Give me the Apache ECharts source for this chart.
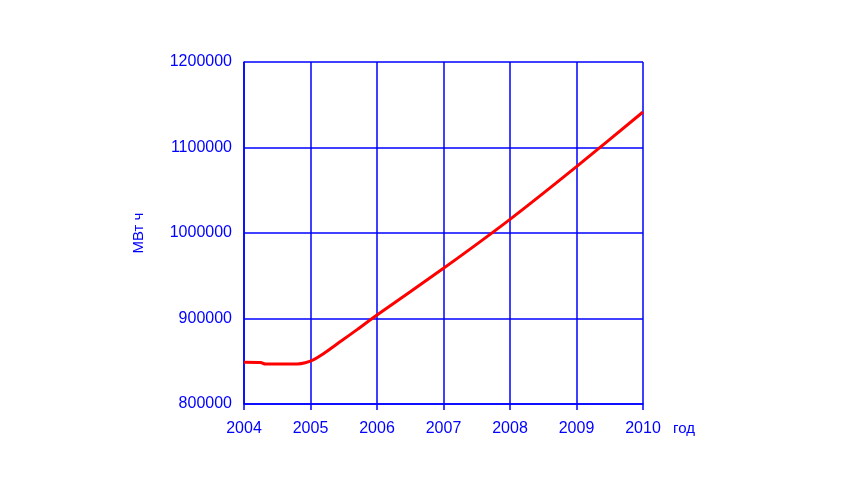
<!DOCTYPE html>
<html>
<head>
<meta charset="utf-8">
<script src="https://cdn.jsdelivr.net/npm/echarts@6/dist/echarts.min.js"></script>
<style>
  html, body { margin: 0; padding: 0; background: #fff; }
  #chart { width: 842px; height: 483px; }
</style>
</head>
<body>
<div id="chart"></div>
<script>
// годы (дробные, чтобы передать форму кривой) и потребление, МВт ч
var years  = [2004, 2004.25, 2004.32, 2004.8, 2004.92, 2005.05, 2005.2, 2005.45, 2005.7, 2006, 2007, 2008, 2009, 2010];
var values = [848800, 848500, 846800, 846900, 848300, 852000, 859000, 873000, 887000, 904000, 958700, 1016000, 1077600, 1141500];
var yTicks = [800000, 900000, 1000000, 1100000, 1200000];
var xTicks = [2004, 2005, 2006, 2007, 2008, 2009, 2010];

var blue = '#0000ff';
var labelFont = { color: blue, fontFamily: 'Liberation Sans', fontSize: 16 };

var points = years.map(function (y, i) { return [y, values[i]]; });

var e = echarts.init(document.getElementById('chart'));
var option = {
    animation: false,
    grid: { left: 244, right: 199, top: 62, bottom: 79 },
    xAxis: {
        type: 'value',
        min: xTicks[0],
        max: xTicks[xTicks.length - 1],
        interval: 1,
        axisLine: { show: true, lineStyle: { color: blue, width: 1.5 } },
        axisTick: { show: true, length: 6, lineStyle: { color: blue, width: 1.5 } },
        splitLine: { show: true, lineStyle: { color: blue, width: 1.5 } },
        axisLabel: {
            color: labelFont.color, fontFamily: labelFont.fontFamily, fontSize: labelFont.fontSize,
            margin: 17,
            formatter: function (v) { return String(v); }
        }
    },
    yAxis: {
        type: 'value',
        min: yTicks[0],
        max: yTicks[yTicks.length - 1],
        interval: 100000,
        name: 'МВт ч',
        nameLocation: 'middle',
        nameRotate: 90,
        nameGap: 98,
        nameTextStyle: { color: blue, fontFamily: 'Liberation Sans', fontSize: 15 },
        axisLine: { show: true, lineStyle: { color: blue, width: 1.5 } },
        axisTick: { show: false },
        splitLine: { show: true, lineStyle: { color: blue, width: 1.5 } },
        axisLabel: {
            color: labelFont.color, fontFamily: labelFont.fontFamily, fontSize: labelFont.fontSize,
            margin: 12,
            formatter: function (v) { return String(v); }
        }
    },
    graphic: [{
        type: 'text',
        left: 673,
        top: 421,
        style: { text: 'год', fill: blue, font: '15px "Liberation Sans"' }
    }],
    series: [{
        type: 'line',
        data: points,
        smooth: 0.2,
        showSymbol: false,
        lineStyle: { color: '#ff0000', width: 3 }
    }]
};
e.setOption(option);
</script>
</body>
</html>
